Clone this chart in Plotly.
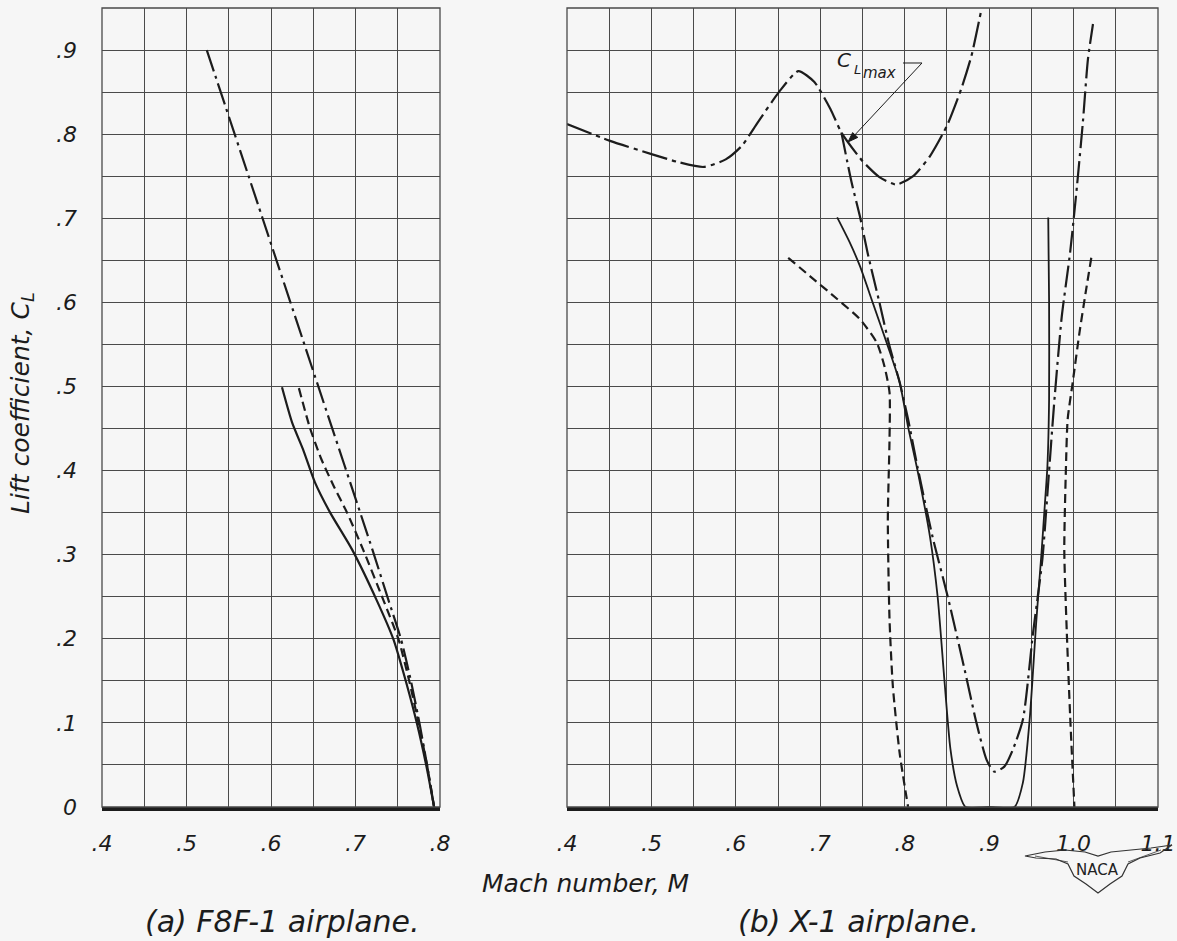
import plotly.graph_objects as go

W, H = 1177, 941

# ---------------- (a) F8F-1 airplane ----------------
f8f_solid_mach = [0.613, 0.625, 0.638, 0.652, 0.670, 0.696, 0.725, 0.745, 0.760, 0.773, 0.784, 0.793]
f8f_solid_cl = [0.499, 0.457, 0.425, 0.386, 0.350, 0.306, 0.246, 0.199, 0.148, 0.098, 0.048, 0.0]

f8f_dash_mach = [0.633, 0.646, 0.659, 0.674, 0.690, 0.709, 0.733, 0.751, 0.764, 0.775, 0.785, 0.793]
f8f_dash_cl = [0.498, 0.451, 0.415, 0.382, 0.350, 0.306, 0.246, 0.199, 0.148, 0.098, 0.048, 0.0]

f8f_dashdot_mach = [0.524, 0.590, 0.655, 0.720, 0.739, 0.754, 0.766, 0.776, 0.785, 0.793]
f8f_dashdot_cl = [0.900, 0.700, 0.503, 0.306, 0.246, 0.199, 0.148, 0.098, 0.048, 0.0]

# ---------------- (b) X-1 airplane ----------------
x1_clmax_mach = [0.400, 0.451, 0.501, 0.531, 0.562, 0.588, 0.607, 0.626, 0.651, 0.674, 0.693, 0.712,
                 0.725, 0.750, 0.770, 0.790, 0.810, 0.830, 0.850, 0.867, 0.879, 0.891]
x1_clmax_cl = [0.812, 0.792, 0.776, 0.767, 0.761, 0.770, 0.786, 0.814, 0.850, 0.875, 0.862, 0.830,
               0.802, 0.768, 0.749, 0.740, 0.750, 0.774, 0.810, 0.854, 0.893, 0.949]

x1_dashdot_mach = [0.725, 0.737, 0.747, 0.756, 0.770, 0.782, 0.794, 0.804, 0.815, 0.833, 0.851, 0.871,
                   0.885, 0.897, 0.906, 0.918, 0.928, 0.940, 0.952, 0.963, 0.970, 0.977, 0.986, 0.996,
                   1.004, 1.011, 1.017, 1.023]
x1_dashdot_cl = [0.802, 0.743, 0.702, 0.659, 0.600, 0.548, 0.505, 0.461, 0.405, 0.321, 0.250, 0.163,
                 0.100, 0.056, 0.042, 0.048, 0.068, 0.104, 0.207, 0.294, 0.386, 0.480, 0.583, 0.660,
                 0.738, 0.814, 0.889, 0.931]

x1_solid_mach = [0.720, 0.735, 0.747, 0.762, 0.780, 0.794, 0.804, 0.815, 0.830, 0.839, 0.847, 0.854,
                 0.862, 0.872, 0.900, 0.930, 0.940, 0.948, 0.956, 0.962, 0.966, 0.969, 0.971, 0.971,
                 0.970]
x1_solid_cl = [0.701, 0.671, 0.643, 0.600, 0.548, 0.505, 0.452, 0.401, 0.321, 0.250, 0.151, 0.070,
               0.025, 0.0, 0.0, 0.0, 0.029, 0.104, 0.223, 0.302, 0.360, 0.405, 0.485, 0.600, 0.701]

x1_dash_low_mach = [0.662, 0.688, 0.720, 0.747, 0.767, 0.776, 0.782, 0.782, 0.780, 0.782, 0.786, 0.794, 0.804]
x1_dash_low_cl = [0.653, 0.631, 0.604, 0.580, 0.552, 0.524, 0.493, 0.437, 0.342, 0.223, 0.143, 0.064, 0.0]

x1_dash_high_mach = [1.021, 1.015, 1.007, 0.999, 0.993, 0.991, 0.989, 0.992, 0.996, 1.001]
x1_dash_high_cl = [0.653, 0.616, 0.564, 0.505, 0.461, 0.405, 0.306, 0.207, 0.107, 0.0]

# tick labels
y_tickvals = [0.0, 0.1, 0.2, 0.3, 0.4, 0.5, 0.6, 0.7, 0.8, 0.9]
y_ticktext = ["0", ".1", ".2", ".3", ".4", ".5", ".6", ".7", ".8", ".9"]
xa_tickvals = [0.4, 0.5, 0.6, 0.7, 0.8]
xa_ticktext = [".4", ".5", ".6", ".7", ".8"]
xb_tickvals = [0.4, 0.5, 0.6, 0.7, 0.8, 0.9, 1.0, 1.1]
xb_ticktext = [".4", ".5", ".6", ".7", ".8", ".9", "1.0", "1.1"]

INK = "#1c1c1c"
GRID = "#4a4a4a"
BG = "#f6f6f6"
FONT = "DejaVu Sans"


def px(x, y):
    """pixel position -> paper coordinates"""
    return x / W, 1 - y / H


def curve(xs, ys, dash, axes, width=2.2):
    return go.Scatter(
        x=xs, y=ys, mode="lines", xaxis=axes[0], yaxis=axes[1],
        line=dict(color=INK, width=width, dash=dash, shape="spline", smoothing=0.6),
        hoverinfo="skip", showlegend=False,
    )


def label(x, y, text, size, angle=0, italic=True, color=INK):
    """text centred on a pixel position"""
    lx, ly = px(x, y)
    fig.add_annotation(xref="paper", yref="paper", x=lx, y=ly, text=text, showarrow=False,
                       xanchor="center", yanchor="middle", textangle=angle,
                       font=dict(family=FONT, size=size, color=color,
                                 style="italic" if italic else "normal"))


DASH = "9px,5px"
DASHDOT = "22px,5px,3px,5px"
LONGDASHDOT = "26px,5px,4px,5px"

fig = go.Figure()
fig.add_trace(curve(f8f_solid_mach, f8f_solid_cl, "solid", ("x", "y")))
fig.add_trace(curve(f8f_dash_mach, f8f_dash_cl, DASH, ("x", "y")))
fig.add_trace(curve(f8f_dashdot_mach, f8f_dashdot_cl, DASHDOT, ("x", "y")))

fig.add_trace(curve(x1_clmax_mach, x1_clmax_cl, LONGDASHDOT, ("x2", "y2")))
fig.add_trace(curve(x1_dashdot_mach, x1_dashdot_cl, DASHDOT, ("x2", "y2")))
fig.add_trace(curve(x1_solid_mach, x1_solid_cl, "solid", ("x2", "y2"), width=1.8))
fig.add_trace(curve(x1_dash_low_mach, x1_dash_low_cl, DASH, ("x2", "y2")))
fig.add_trace(curve(x1_dash_high_mach, x1_dash_high_cl, DASH, ("x2", "y2")))

tickfont = dict(family=FONT, size=22, color=INK, style="italic")
grid_minor = dict(dtick=0.05, showgrid=True, gridcolor=GRID, gridwidth=1.2, ticks="")

ydom = [1 - 807 / H, 1 - 8 / H]
common_x = dict(showgrid=True, gridcolor=GRID, gridwidth=1.2, zeroline=False, ticks="",
                showline=True, linecolor=INK, linewidth=3.5, tickfont=tickfont,
                ticklabelstandoff=14, minor=grid_minor, automargin=False)
common_y = dict(range=[0, 0.95], showgrid=True, gridcolor=GRID, gridwidth=1.2, zeroline=False,
                ticks="", showline=False, tickvals=y_tickvals, tickfont=tickfont,
                ticklabelstandoff=24, minor=grid_minor, domain=ydom, automargin=False)

fig.update_layout(
    width=W, height=H,
    margin=dict(l=0, r=0, t=0, b=0, autoexpand=False),
    paper_bgcolor=BG, plot_bgcolor=BG,
    xaxis=dict(common_x, domain=[102 / W, 440 / W], range=[0.4, 0.8],
               tickvals=xa_tickvals, ticktext=xa_ticktext, anchor="y"),
    yaxis=dict(common_y, ticktext=y_ticktext, anchor="x"),
    xaxis2=dict(common_x, domain=[567 / W, 1158 / W], range=[0.4, 1.1],
                tickvals=xb_tickvals, ticktext=xb_ticktext, anchor="y2"),
    yaxis2=dict(common_y, ticktext=y_ticktext, showticklabels=False, anchor="x2"),
)

# panel borders
for xr, yr in (("x", "y"), ("x2", "y2")):
    fig.add_shape(type="rect", xref=f"{xr} domain", yref=f"{yr} domain", x0=0, x1=1, y0=0, y1=1,
                  line=dict(color=GRID, width=1.3), layer="above")


def poly(points, closed=False, width=1.0, fill=None, color=INK):
    p = "M " + " L ".join(f"{px(a, b)[0]:.5f},{px(a, b)[1]:.5f}" for a, b in points)
    if closed:
        p += " Z"
    fig.add_shape(type="path", xref="paper", yref="paper", path=p,
                  line=dict(color=color, width=width), fillcolor=fill or "rgba(0,0,0,0)")


# C_Lmax leader: short horizontal stroke, diagonal to the curve, filled arrowhead
poly([(903, 63), (922, 63), (852, 138)])
poly([(848, 142), (857.8, 137.4), (852.6, 132.6)], closed=True, fill=INK)
label(844, 60, "C", 20)
label(857, 70, "L", 13)
label(879, 73, "max", 15)

# axis titles and panel captions
label(22, 403, "Lift coefficient, C<sub>L</sub>", 25, angle=-90)
label(585, 883, "Mach number, M", 25)
label(282, 921, "(a) F8F-1 airplane.", 30)
label(858, 921, "(b) X-1 airplane.", 30)

# NACA wing emblem
poly([(1025, 856), (1045, 852), (1065, 850), (1085, 852), (1098, 856), (1111, 852),
      (1131, 850), (1151, 848), (1172, 845), (1160, 853), (1140, 858), (1128, 864),
      (1122, 876), (1110, 884), (1098, 893), (1086, 884), (1074, 876), (1068, 864),
      (1056, 859), (1036, 858)], closed=True, width=1.2, color="#333")
poly([(1035, 856), (1068, 862)], width=0.8, color="#333")
poly([(1161, 850), (1128, 862)], width=0.8, color="#333")
label(1097, 870, "NACA", 15, italic=False, color="#222")

fig.write_html("out.html")
